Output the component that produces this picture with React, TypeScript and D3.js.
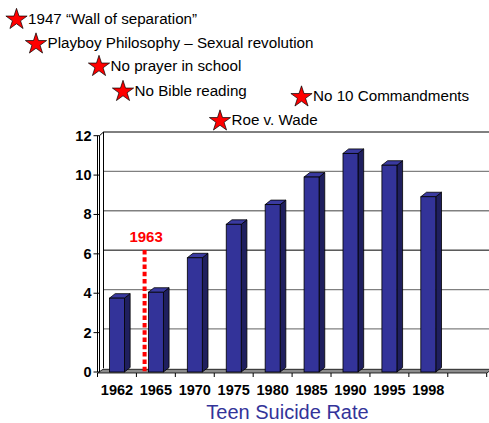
import { useEffect, useRef } from 'react';
import * as d3 from 'd3';

// chart data
const years = ['1962', '1965', '1970', '1975', '1980', '1985', '1990', '1995', '1998', ''];
const rates = [3.75, 4.05, 5.8, 7.5, 8.5, 9.9, 11.1, 10.5, 8.9, null];
const yTicks = [0, 2, 4, 6, 8, 10, 12];

const events = [
  '1947 \u201CWall of separation\u201D',
  'Playboy Philosophy \u2013 Sexual revolution',
  'No prayer in school',
  'No Bible reading',
  'No 10 Commandments',
  'Roe v. Wade',
];
// star centres for each event label
const eventPos: [number, number][] = [
  [16.5, 18.5],
  [36, 43],
  [99, 65.5],
  [123, 90.5],
  [301.5, 96],
  [220, 120],
];

const markerYear = '1963';
const markerBand = 1.21; // in band steps from the left edge of the axis
const markerTop = 6.2;

const W = 489;
const H = 423;

export default function App() {
  const svgRef = useRef<SVGSVGElement>(null);

  useEffect(() => {
    if (!svgRef.current) return;
    const svg = d3.select(svgRef.current);
    svg.selectAll('*').remove();

    const x0 = 97.5;
    const x1 = 486.7;
    const yBottom = 372;
    const yTop = 135.7;
    const dx = 5.5;
    const dy = -3.7;

    const x = d3
      .scaleBand<string>()
      .domain(years.map((d, i) => d || `blank${i}`))
      .range([x0, x1])
      .paddingInner(0.615)
      .paddingOuter(0.3075);
    const step = x.step();
    const bw = x.bandwidth();

    const y = d3.scaleLinear().domain([0, 12]).range([yBottom, yTop]);

    const g = svg.append('g');

    // floor
    g.append('path')
      .attr(
        'd',
        `M${x0},${yBottom + 1}L${x0 + dx},${yBottom + 1 + dy}L${x1 + dx},${yBottom + 1 + dy}L${x1},${yBottom + 1}Z`
      )
      .attr('fill', '#8c8c8c')
      .attr('stroke', '#000')
      .attr('stroke-width', 0.8);

    // back wall gridlines
    yTicks.slice(1).forEach((t) => {
      g.append('line')
        .attr('x1', x0 + dx + 0.5)
        .attr('x2', W)
        .attr('y1', y(t) + dy)
        .attr('y2', y(t) + dy)
        .attr('stroke', t === 12 || t === 6 ? '#000' : '#808080')
        .attr('stroke-width', t === 12 || t === 6 ? 1 : 1.3);
    });

    // side wall edges
    g.append('line')
      .attr('x1', x0 + dx + 0.5)
      .attr('x2', x0 + dx + 0.5)
      .attr('y1', y(12) + dy)
      .attr('y2', y(0) + dy)
      .attr('stroke', '#000');
    g.append('line')
      .attr('x1', x0 + 2)
      .attr('x2', x0 + 2)
      .attr('y1', y(12))
      .attr('y2', y(0))
      .attr('stroke', '#000');
    g.append('line')
      .attr('x1', x0 + 2)
      .attr('x2', x0 + dx + 0.5)
      .attr('y1', y(12))
      .attr('y2', y(12) + dy)
      .attr('stroke', '#000');

    // front value axis
    g.append('line')
      .attr('x1', x0)
      .attr('x2', x0)
      .attr('y1', y(12))
      .attr('y2', y(0))
      .attr('stroke', '#000');
    yTicks.forEach((t) => {
      g.append('line')
        .attr('x1', x0 - 4)
        .attr('x2', x0 + 2)
        .attr('y1', y(t))
        .attr('y2', y(t))
        .attr('stroke', '#000');
      g.append('text')
        .attr('x', x0 - 6)
        .attr('y', y(t) + 5)
        .attr('text-anchor', 'end')
        .attr('font-family', 'Arial, "Liberation Sans", sans-serif')
        .attr('font-weight', 'bold')
        .attr('font-size', 14.5)
        .text(t);
    });

    // category ticks
    d3.range(years.length + 1).forEach((i) => {
      const xt = x0 + i * step;
      g.append('line')
        .attr('x1', xt)
        .attr('x2', xt)
        .attr('y1', yBottom + 1)
        .attr('y2', yBottom + 5)
        .attr('stroke', '#000');
    });

    // bars
    years.forEach((yr, i) => {
      const v = rates[i];
      if (v == null) return;
      const bx = x(yr || `blank${i}`)!;
      const top = y(v);
      const ddx = 5.7;
      const ddy = -4.5;
      g.append('path')
        .attr('d', `M${bx + bw},${yBottom}L${bx + bw + ddx},${yBottom + ddy}L${bx + bw + ddx},${top + ddy}L${bx + bw},${top}Z`)
        .attr('fill', '#1f1f5e')
        .attr('stroke', '#000')
        .attr('stroke-width', 0.8);
      g.append('path')
        .attr('d', `M${bx},${top}L${bx + ddx},${top + ddy}L${bx + bw + ddx},${top + ddy}L${bx + bw},${top}Z`)
        .attr('fill', '#3a3aa0')
        .attr('stroke', '#000')
        .attr('stroke-width', 0.8);
      g.append('rect')
        .attr('x', bx)
        .attr('y', top)
        .attr('width', bw)
        .attr('height', yBottom - top)
        .attr('fill', '#333399')
        .attr('stroke', '#000')
        .attr('stroke-width', 0.8);
    });

    // category labels
    years.forEach((yr) => {
      if (!yr) return;
      g.append('text')
        .attr('x', x(yr)! + bw / 2)
        .attr('y', 395)
        .attr('text-anchor', 'middle')
        .attr('font-family', 'Arial, "Liberation Sans", sans-serif')
        .attr('font-weight', 'bold')
        .attr('font-size', 14.5)
        .text(yr);
    });

    // 1963 marker
    const mx = x0 + markerBand * step;
    g.append('line')
      .attr('x1', mx)
      .attr('x2', mx)
      .attr('y1', y(markerTop))
      .attr('y2', y(0))
      .attr('stroke', '#ff0000')
      .attr('stroke-width', 4)
      .attr('stroke-dasharray', '4.5 2.8');
    g.append('text')
      .attr('x', mx + 1.5)
      .attr('y', y(markerTop) - 7.5)
      .attr('text-anchor', 'middle')
      .attr('fill', '#ff0000')
      .attr('font-family', 'Arial, "Liberation Sans", sans-serif')
      .attr('font-weight', 'bold')
      .attr('font-size', 15)
      .text(markerYear);

    // title
    g.append('text')
      .attr('x', 287.5)
      .attr('y', 419)
      .attr('text-anchor', 'middle')
      .attr('fill', '#333399')
      .attr('font-family', 'Arial, "Liberation Sans", sans-serif')
      .attr('font-size', 20)
      .text('Teen Suicide Rate');

    // event annotations
    const star = d3.symbol().type(d3.symbolStar).size(140);
    events.forEach((label, i) => {
      const [sx, sy] = eventPos[i];
      g.append('path')
        .attr('d', star()!)
        .attr('transform', `translate(${sx},${sy + 1})`)
        .attr('fill', '#ff0000')
        .attr('stroke', '#000')
        .attr('stroke-width', 0.7);
      g.append('text')
        .attr('x', sx + 11.5)
        .attr('y', sy + 5)
        .attr('font-family', 'Arial, "Liberation Sans", sans-serif')
        .attr('font-size', 15.2)
        .text(label);
    });
  }, []);

  return (
    <svg
      ref={svgRef}
      width={W}
      height={H}
      style={{ position: 'absolute', left: 0, top: 0, background: '#fff' }}
    />
  );
}
